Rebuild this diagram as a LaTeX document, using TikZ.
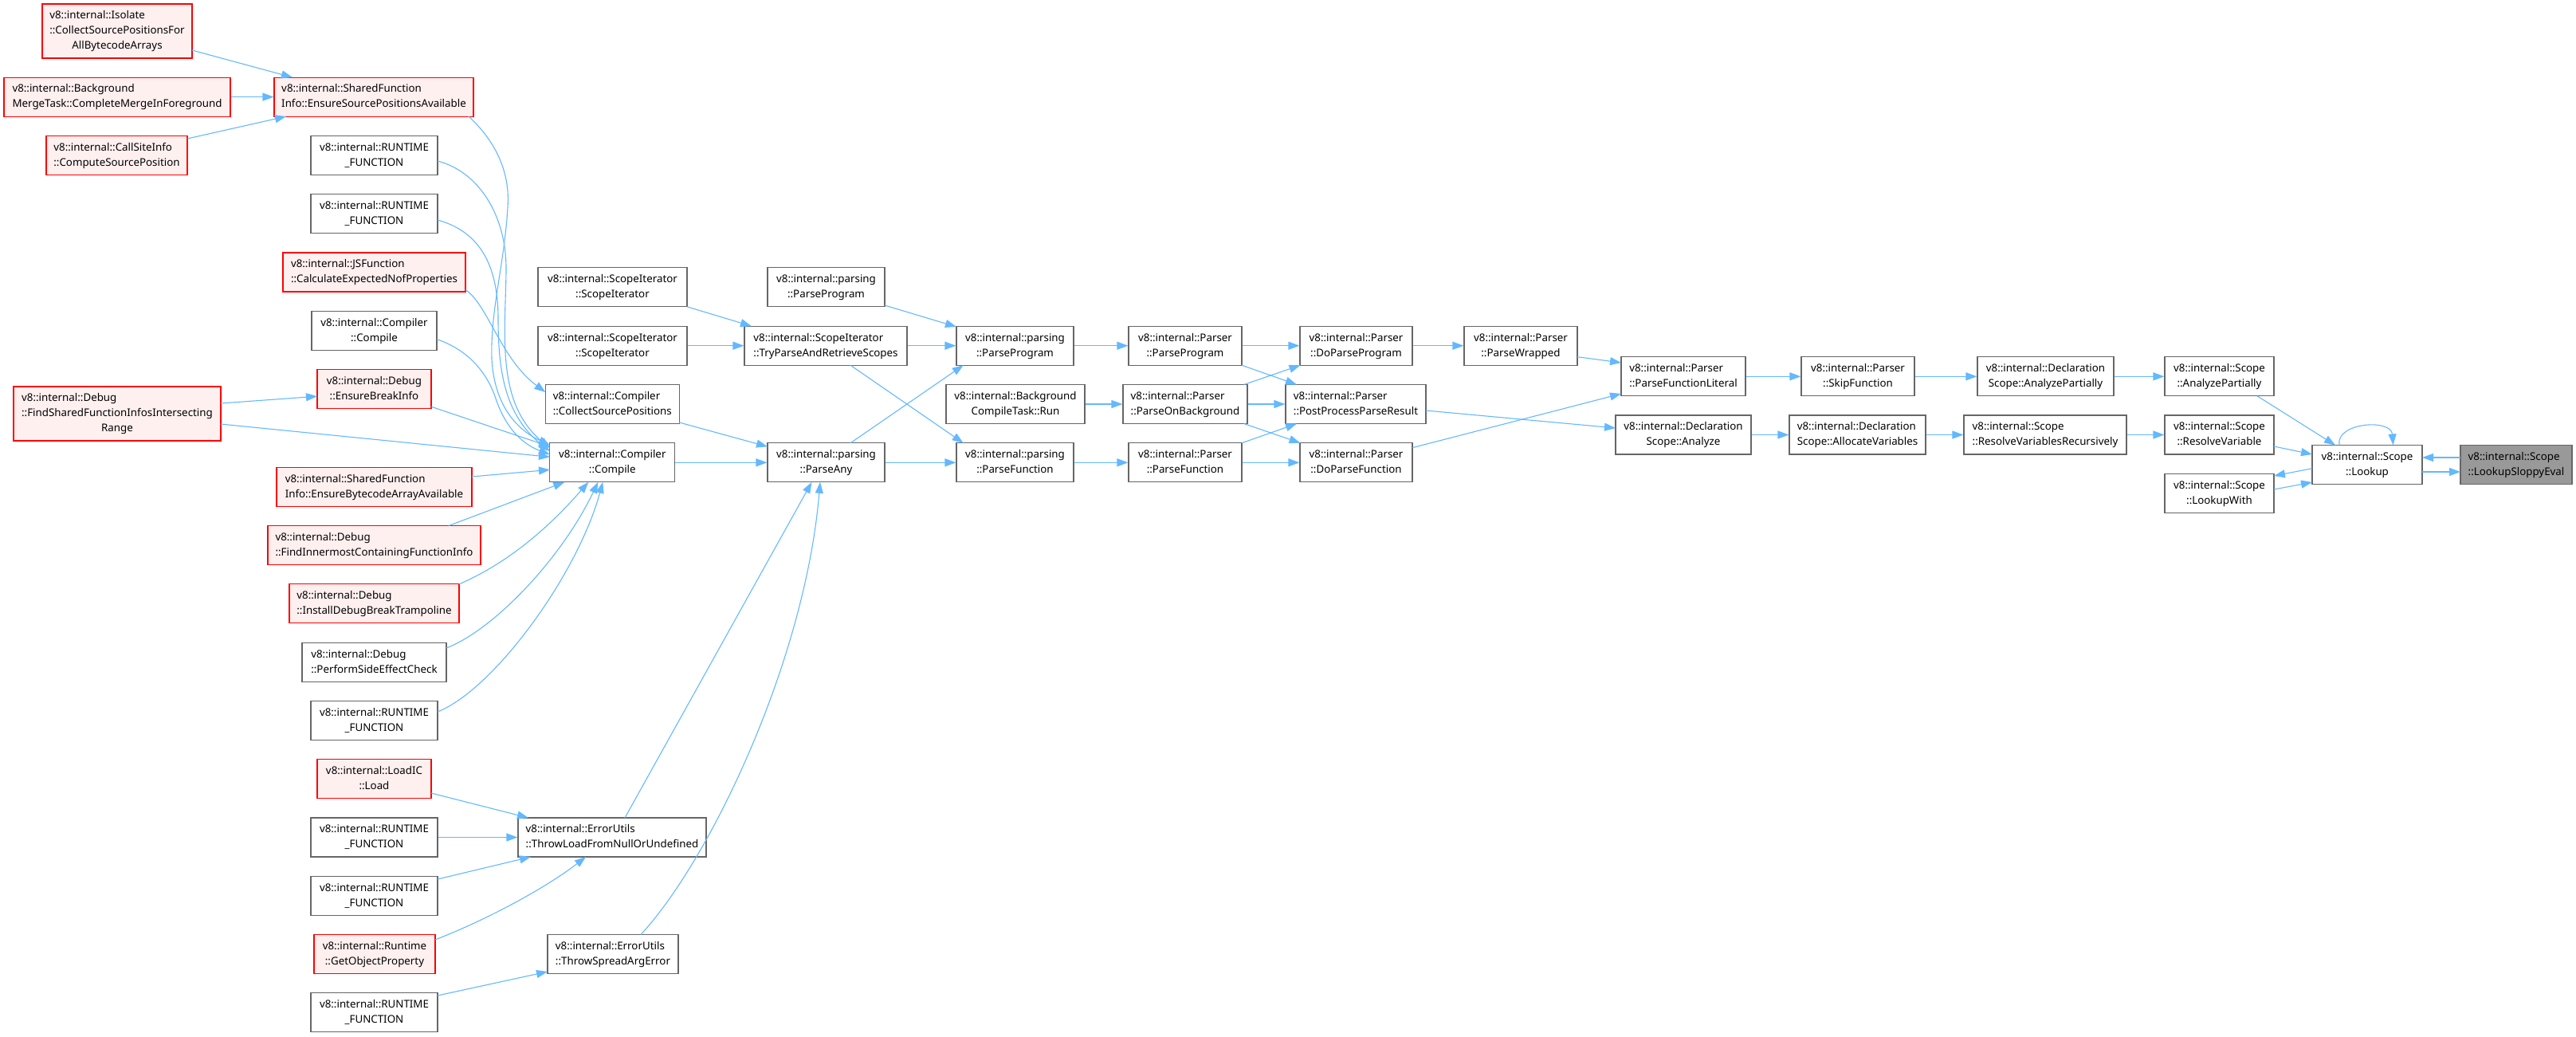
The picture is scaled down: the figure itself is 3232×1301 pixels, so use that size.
\documentclass[tikz,border=0pt]{standalone}
\usepackage{fontspec}
\newfontfamily\nodefont{Noto Sans}
\usetikzlibrary{calc,arrows.meta}
\definecolor{edgeblue}{HTML}{63B8FF}
\definecolor{boxgray}{HTML}{666666}
\definecolor{redfill}{HTML}{FFF0F0}
\definecolor{hlgray}{HTML}{999999}
\newcommand{\twol}[2]{\begin{tabular}{@{}l@{}}#1\\\multicolumn{1}{@{}c@{}}{#2}\end{tabular}}
\newcommand{\threel}[3]{\begin{tabular}{@{}l@{}}#1\\#2\\\multicolumn{1}{@{}c@{}}{#3}\end{tabular}}
\tikzset{
  fn/.style={draw=boxgray, fill=white, line width=1.1pt, inner sep=0pt, minimum height=49pt,
    font=\nodefont\fontsize{13.33}{19}\selectfont},
  redfn/.style={fn, draw=red, fill=redfill},
  hlfn/.style={fn, fill=hlgray},
  callarrow/.style={draw=edgeblue, line width=1.1pt, -{Triangle[length=14pt,width=10pt]}},
}
\begin{document}
\begin{tikzpicture}[x=1pt,y=-1pt]
\useasboundingbox (0,0) rectangle (3232,1301);
% column 1
\node[redfn, minimum width=188pt, minimum height=68pt] (isolate) at (147,39) {\threel{v8::internal::Isolate}{::CollectSourcePositionsFor}{AllBytecodeArrays}};
\node[redfn, minimum width=284pt] (bgmerge) at (147,121.6) {\twol{v8::internal::Background}{MergeTask::CompleteMergeInForeground}};
\node[redfn, minimum width=177pt] (callsite) at (146.5,195) {\twol{v8::internal::CallSiteInfo}{::ComputeSourcePosition}};
\node[redfn, minimum width=260pt, minimum height=68pt] (findshared) at (147,519) {\threel{v8::internal::Debug}{::FindSharedFunctionInfosIntersecting}{Range}};
% column 2
\node[redfn, minimum width=250pt] (sfiesp) at (469,121.6) {\twol{v8::internal::SharedFunction}{Info::EnsureSourcePositionsAvailable}};
\node[fn, minimum width=159pt] (rf1) at (469.5,195) {\twol{v8::internal::RUNTIME}{\_FUNCTION}};
\node[fn, minimum width=159pt] (rf2) at (469.5,268.3) {\twol{v8::internal::RUNTIME}{\_FUNCTION}};
\node[redfn, minimum width=229pt] (jsf) at (469.5,341.5) {\twol{v8::internal::JSFunction}{::CalculateExpectedNofProperties}};
\node[fn, minimum width=157pt] (ccomp2) at (469.5,415) {\twol{v8::internal::Compiler}{::Compile}};
\node[redfn, minimum width=143pt] (ebi) at (469.5,488.2) {\twol{v8::internal::Debug}{::EnsureBreakInfo}};
\node[redfn, minimum width=245pt] (sfieba) at (469.5,610.7) {\twol{v8::internal::SharedFunction}{Info::EnsureBytecodeArrayAvailable}};
\node[redfn, minimum width=267pt] (finner) at (469.5,684) {\twol{v8::internal::Debug}{::FindInnermostContainingFunctionInfo}};
\node[redfn, minimum width=213pt] (install) at (469.5,757.4) {\twol{v8::internal::Debug}{::InstallDebugBreakTrampoline}};
\node[fn, minimum width=181pt] (perform) at (469.5,830.7) {\twol{v8::internal::Debug}{::PerformSideEffectCheck}};
\node[fn, minimum width=159pt] (rf3) at (469.5,904) {\twol{v8::internal::RUNTIME}{\_FUNCTION}};
\node[redfn, minimum width=143pt] (loadic) at (469.5,977) {\twol{v8::internal::LoadIC}{::Load}};
\node[fn, minimum width=159pt] (rf4) at (469.5,1050.5) {\twol{v8::internal::RUNTIME}{\_FUNCTION}};
\node[fn, minimum width=159pt] (rf5) at (469.5,1123.8) {\twol{v8::internal::RUNTIME}{\_FUNCTION}};
\node[redfn, minimum width=152pt] (getobj) at (470,1197) {\twol{v8::internal::Runtime}{::GetObjectProperty}};
\node[fn, minimum width=159pt] (rf6) at (469.5,1270.4) {\twol{v8::internal::RUNTIME}{\_FUNCTION}};
% column 3
\node[fn, minimum width=187pt] (si1) at (768.5,360.3) {\twol{v8::internal::ScopeIterator}{::ScopeIterator}};
\node[fn, minimum width=187pt] (si2) at (768.5,433.7) {\twol{v8::internal::ScopeIterator}{::ScopeIterator}};
\node[fn, minimum width=168pt] (collect) at (768.3,507) {\twol{v8::internal::Compiler}{::CollectSourcePositions}};
\node[fn, minimum width=157pt] (compile) at (768.3,580.3) {\twol{v8::internal::Compiler}{::Compile}};
\node[fn, minimum width=236pt] (throwload) at (768,1050.5) {\twol{v8::internal::ErrorUtils}{::ThrowLoadFromNullOrUndefined}};
\node[fn, minimum width=164pt] (throwspread) at (769,1197) {\twol{v8::internal::ErrorUtils}{::ThrowSpreadArgError}};
% column 4
\node[fn, minimum width=147pt] (pptop) at (1036.5,360.3) {\twol{v8::internal::parsing}{::ParseProgram}};
\node[fn, minimum width=204pt] (tryparse) at (1036,433.7) {\twol{v8::internal::ScopeIterator}{::TryParseAndRetrieveScopes}};
\node[fn, minimum width=147pt] (parseany) at (1036.5,580.3) {\twol{v8::internal::parsing}{::ParseAny}};
% column 5
\node[fn, minimum width=147pt] (pp) at (1273.5,433.7) {\twol{v8::internal::parsing}{::ParseProgram}};
\node[fn, minimum width=174pt] (bgrun) at (1274,507) {\twol{v8::internal::Background}{CompileTask::Run}};
\node[fn, minimum width=147pt] (pf) at (1273.5,580.3) {\twol{v8::internal::parsing}{::ParseFunction}};
% column 6
\node[fn, minimum width=142pt] (Ppp) at (1487,433.7) {\twol{v8::internal::Parser}{::ParseProgram}};
\node[fn, minimum width=156pt] (Pbg) at (1487,507) {\twol{v8::internal::Parser}{::ParseOnBackground}};
\node[fn, minimum width=142pt] (Ppf) at (1487,580.3) {\twol{v8::internal::Parser}{::ParseFunction}};
% column 7
\node[fn, minimum width=141pt] (dpp) at (1701.5,433.7) {\twol{v8::internal::Parser}{::DoParseProgram}};
\node[fn, minimum width=176pt] (post) at (1701,507) {\twol{v8::internal::Parser}{::PostProcessParseResult}};
\node[fn, minimum width=141pt] (dpf) at (1701.5,580.3) {\twol{v8::internal::Parser}{::DoParseFunction}};
% column 8
\node[fn, minimum width=142pt] (wrapped) at (1908,433.7) {\twol{v8::internal::Parser}{::ParseWrapped}};
% column 9
\node[fn, minimum width=156pt] (pfl) at (2112,472.3) {\twol{v8::internal::Parser}{::ParseFunctionLiteral}};
\node[fn, minimum width=170pt] (analyze) at (2112,545.5) {\twol{v8::internal::Declaration}{Scope::Analyze}};
% column 10
\node[fn, minimum width=142pt] (skip) at (2331,472.3) {\twol{v8::internal::Parser}{::SkipFunction}};
\node[fn, minimum width=171pt] (alloc) at (2330.5,545.5) {\twol{v8::internal::Declaration}{Scope::AllocateVariables}};
% column 11
\node[fn, minimum width=171pt] (dsap) at (2566.5,472.3) {\twol{v8::internal::Declaration}{Scope::AnalyzePartially}};
\node[fn, minimum width=204pt] (rvr) at (2566,545.5) {\twol{v8::internal::Scope}{::ResolveVariablesRecursively}};
% column 12
\node[fn, minimum width=137pt] (sap) at (2784.5,472.3) {\twol{v8::internal::Scope}{::AnalyzePartially}};
\node[fn, minimum width=137pt] (srv) at (2784.5,545.5) {\twol{v8::internal::Scope}{::ResolveVariable}};
\node[fn, minimum width=137pt] (slw) at (2784.5,619) {\twol{v8::internal::Scope}{::LookupWith}};
\node[fn, minimum width=138pt] (lookup) at (2970,583) {\twol{v8::internal::Scope}{::Lookup}};
\node[hlfn, minimum width=140pt] (lse) at (3157,583) {\twol{v8::internal::Scope}{::LookupSloppyEval}};

% edges, left part
\draw[callarrow] ($(isolate)+(94,24)$) -- ($(sfiesp)+(-102,-24.5)$);
\draw[callarrow] (bgmerge.east) -- (sfiesp.west);
\draw[callarrow] ($(callsite)+(88.5,-21)$) -- ($(sfiesp)+(-110,24.5)$);
\draw[callarrow] ($(sfiesp)+(119,24.5)$) .. controls (625,180) and (640,220) .. (637,260) .. controls (633,330) and (615,390) .. (617,450) .. controls (620,510) and (650,540) .. ($(compile)+(-78.3,-22)$);
\draw[callarrow] ($(rf1)+(79.5,7)$) .. controls (600,215) and (636,270) .. (635,340) .. controls (634,420) and (622,505) .. ($(compile)+(-78.3,-18)$);
\draw[callarrow] ($(rf2)+(79.5,7.7)$) .. controls (600,290) and (625,330) .. (625,400) .. controls (625,470) and (635,522) .. ($(compile)+(-78.3,-14)$);
\draw[callarrow] ($(jsf)+(114.5,22)$) .. controls (612,382) and (628,450) .. ($(collect)+(-84,-15)$);
\draw[callarrow] ($(ccomp2)+(78.8,10.7)$) .. controls (590,440) and (612,470) .. (622,500) .. controls (632,530) and (650,555) .. ($(compile)+(-78.3,-10)$);
\draw[callarrow] ($(ebi)+(71.5,22)$) -- ($(compile)+(-78.3,-20)$);
\draw[callarrow] ($(findshared)+(130,-13)$) -- ($(ebi)+(-71.5,9)$);
\draw[callarrow] ($(findshared)+(130,13)$) -- ($(compile)+(-78.3,-7)$);
\draw[callarrow] ($(sfieba)+(122.5,-12.7)$) -- ($(compile)+(-78.3,9)$);
\draw[callarrow] ($(finner)+(93.5,-24.5)$) -- ($(compile)+(-60,24.5)$);
\draw[callarrow] ($(install)+(106.5,-24.5)$) .. controls (640,705) and (690,660) .. ($(compile)+(-30,24.5)$);
\draw[callarrow] ($(perform)+(90.5,-17.7)$) .. controls (620,790) and (705,700) .. ($(compile)+(-18,24.5)$);
\draw[callarrow] ($(rf3)+(79.5,-11)$) .. controls (620,865) and (725,720) .. ($(compile)+(-12,24.5)$);
\draw[callarrow] ($(loadic)+(71.5,18)$) -- ($(throwload)+(-105,-24.5)$);
\draw[callarrow] (rf4.east) -- (throwload.west);
\draw[callarrow] ($(rf5)+(79.5,-20.8)$) -- ($(throwload)+(-102,24.5)$);
\draw[callarrow] ($(getobj)+(76,-18)$) .. controls (620,1150) and (690,1110) .. ($(throwload)+(-33,24.5)$);
\draw[callarrow] ($(rf6)+(79.5,-21.4)$) -- ($(throwspread)+(-82,22)$);
\draw[callarrow] ($(throwload)+(16,-24.5)$) -- ($(parseany)+(-18,24.5)$);
\draw[callarrow] ($(throwspread)+(35,-24.5)$) .. controls (890,1080) and (1010,830) .. ($(parseany)+(-7.5,24.5)$);
% middle
\draw[callarrow] ($(si1)+(93.5,24.5)$) -- ($(tryparse)+(-93,-24.5)$);
\draw[callarrow] (si2.east) -- (tryparse.west);
\draw[callarrow] ($(collect)+(84,23)$) -- ($(parseany)+(-73.5,-20)$);
\draw[callarrow] (compile.east) -- (parseany.west);
\draw[callarrow] ($(pptop)+(73.5,22.7)$) -- ($(pp)+(-73.5,-23.7)$);
\draw[callarrow] (tryparse.east) -- (pp.west);
\draw[callarrow] ($(tryparse)+(31,24.5)$) -- ($(pf)+(-64.8,-24.5)$);
\draw[callarrow] ($(parseany)+(30.5,-24.5)$) -- ($(pp)+(-64.8,24.5)$);
\draw[callarrow] (parseany.east) -- (pf.west);
\draw[callarrow] (pp.east) -- (Ppp.west);
\draw[callarrow] (bgrun.east) -- (Pbg.west);
\draw[callarrow] (pf.east) -- (Ppf.west);
\draw[callarrow] (Ppp.east) -- (dpp.west);
\draw[callarrow] ($(Ppp)+(71,24.5)$) -- ($(post)+(-74,-24.5)$);
\draw[callarrow] ($(Pbg)+(73.7,-24.5)$) -- ($(dpp)+(-70,24.5)$);
\draw[callarrow] (Pbg.east) -- (post.west);
\draw[callarrow] ($(Pbg)+(73.7,24.5)$) -- ($(dpf)+(-70,-24.5)$);
\draw[callarrow] ($(Ppf)+(71,-24.5)$) -- ($(post)+(-74,24.5)$);
\draw[callarrow] (Ppf.east) -- (dpf.west);
\draw[callarrow] (dpp.east) -- (wrapped.west);
\draw[callarrow] ($(post)+(88,8)$) -- ($(analyze)+(-85,-8.5)$);
\draw[callarrow] ($(dpf)+(70.5,-18.6)$) -- ($(pfl)+(-78,21.7)$);
\draw[callarrow] ($(wrapped)+(71,14)$) -- ($(pfl)+(-78,-17.3)$);
% right part
\draw[callarrow] (pfl.east) -- (skip.west);
\draw[callarrow] (skip.east) -- (dsap.west);
\draw[callarrow] (dsap.east) -- (sap.west);
\draw[callarrow] (analyze.east) -- (alloc.west);
\draw[callarrow] (alloc.east) -- (rvr.west);
\draw[callarrow] (rvr.east) -- (srv.west);
\draw[callarrow] ($(sap)+(47.5,24.5)$) -- ($(lookup)+(-40,-24.5)$);
\draw[callarrow] ($(srv)+(68.5,14.5)$) -- ($(lookup)+(-69,-13)$);
\draw[callarrow] ($(lookup)+(-69,4.7)$) -- ($(slw)+(68.5,-22)$);
\draw[callarrow] ($(slw)+(68.5,-5)$) -- ($(lookup)+(-69,22)$);
\draw[callarrow] ($(lse)+(-70,-9)$) -- ($(lookup)+(69,-9)$);
\draw[callarrow] ($(lookup)+(69,9)$) -- ($(lse)+(-70,9)$);
\draw[callarrow] ($(lookup)+(-35,-24.5)$) .. controls (2930,530) and (3000,525) .. ($(lookup)+(32.6,-24.5)$);
\end{tikzpicture}
\end{document}
